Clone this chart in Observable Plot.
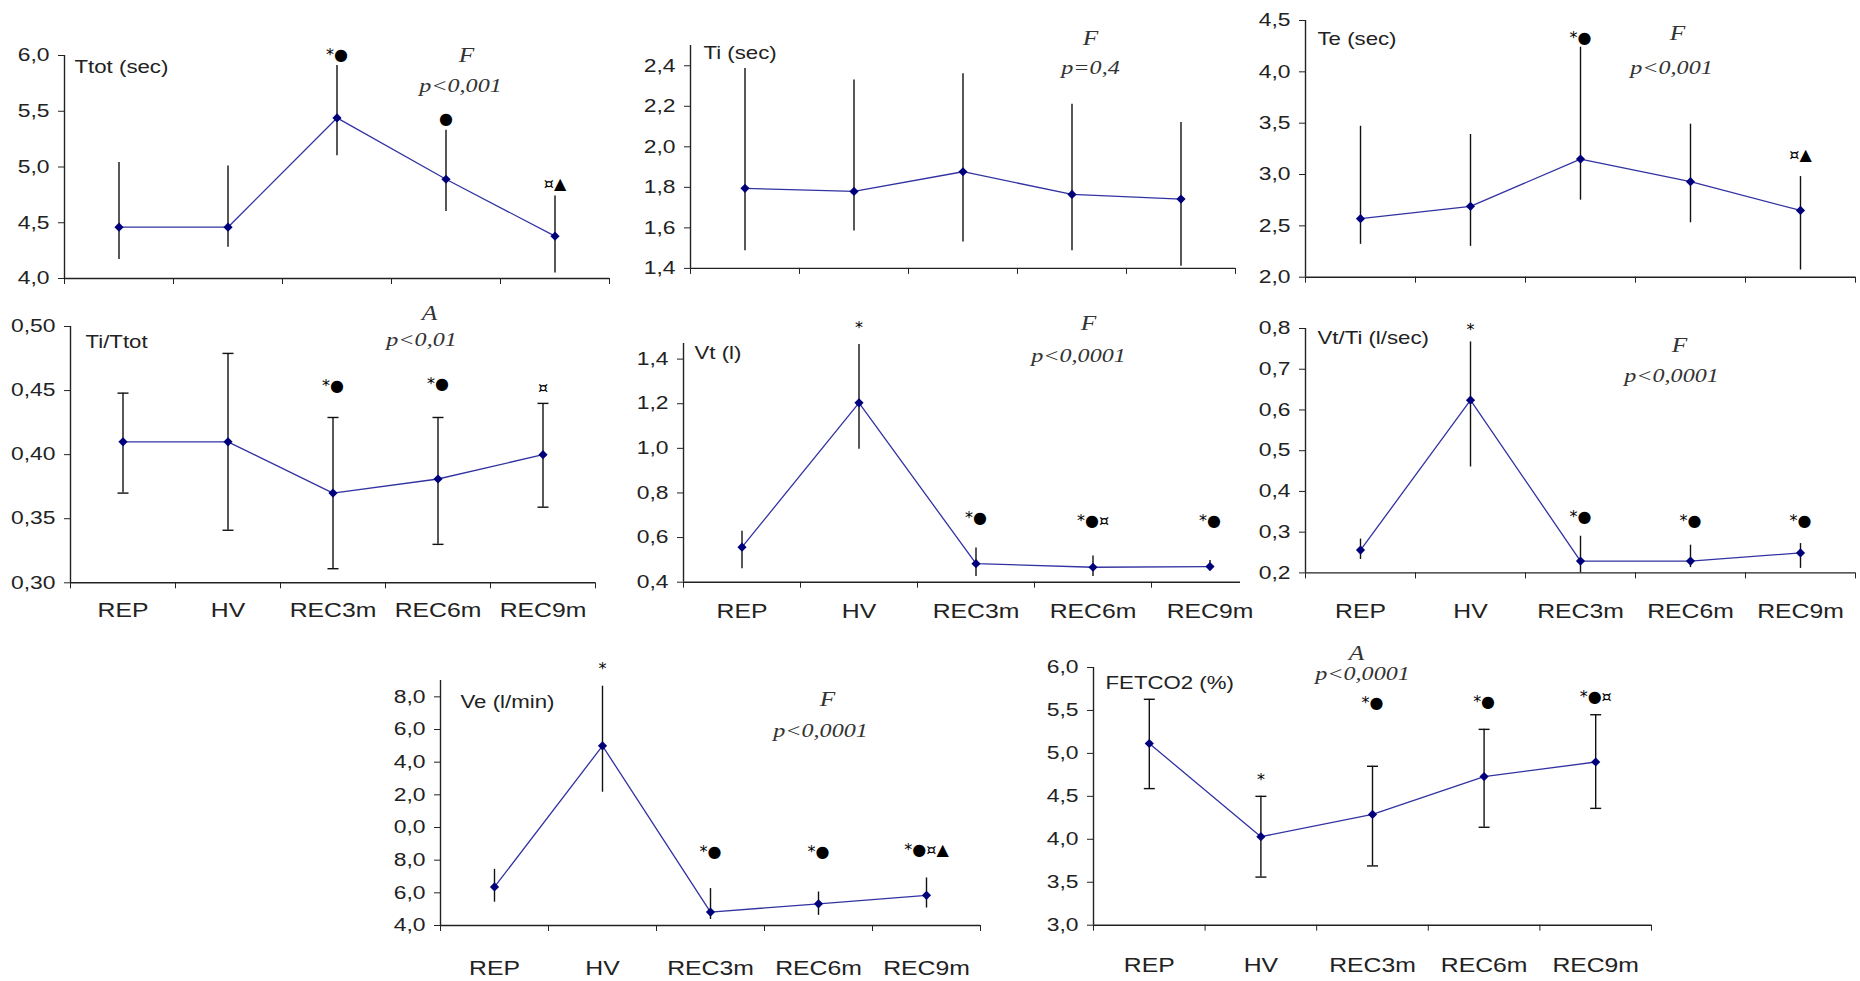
<!DOCTYPE html>
<html><head><meta charset="utf-8">
<script src="https://cdn.jsdelivr.net/npm/d3@7"></script>
<script src="https://cdn.jsdelivr.net/npm/@observablehq/plot@0.6"></script>
<style>
html,body{margin:0;padding:0;background:#fff;overflow:hidden;}
#root{position:relative;width:1860px;height:981px;}
.panel{position:absolute;}
.panel svg{overflow:visible;display:block;max-width:none !important;}
</style></head><body><div id="root"></div>
<script>
// ---------- data ----------
const categories = ["REP", "HV", "REC3m", "REC6m", "REC9m"];

const ttotMean = [4.46, 4.46, 5.44, 4.89, 4.38];
const ttotHi   = [5.04, 5.01, 5.91, 5.33, 4.74];
const ttotLo   = [4.17, 4.28, 5.10, 4.60, 4.05];
const ttotSig  = ["", "", "*●", "●", "¤▲"];
const ttotSigAt = [null, null, 6.01, 5.43, 4.85];
const ttotTicks = [4.0, 4.5, 5.0, 5.5, 6.0];

const tiMean = [1.795, 1.78, 1.877, 1.765, 1.742];
const tiHi   = [2.387, 2.33, 2.36, 2.21, 2.12];
const tiLo   = [1.487, 1.584, 1.53, 1.487, 1.41];
const tiSig  = ["", "", "", "", ""];
const tiSigAt = [null, null, null, null, null];
const tiTicks = [1.4, 1.6, 1.8, 2.0, 2.2, 2.4];

const teMean = [2.57, 2.69, 3.15, 2.93, 2.65];
const teHi   = [3.47, 3.39, 4.24, 3.49, 2.98];
const teLo   = [2.32, 2.30, 2.75, 2.53, 2.07];
const teSig  = ["", "", "*●", "", "¤▲"];
const teSigAt = [null, null, 4.33, null, 3.19];
const teTicks = [2.0, 2.5, 3.0, 3.5, 4.0, 4.5];

const tittotMean = [0.410, 0.410, 0.370, 0.381, 0.400];
const tittotHi   = [0.448, 0.479, 0.429, 0.429, 0.440];
const tittotLo   = [0.370, 0.341, 0.311, 0.330, 0.359];
const tittotSig  = ["", "", "*●", "*●", "¤"];
const tittotSigAt = [null, null, 0.454, 0.4555, 0.452];
const tittotTicks = [0.30, 0.35, 0.40, 0.45, 0.50];

const vtMean = [0.557, 1.204, 0.483, 0.467, 0.470];
const vtHi   = [0.628, 1.466, 0.553, 0.517, 0.497];
const vtLo   = [0.460, 0.996, 0.426, 0.426, 0.452];
const vtSig  = ["", "*", "*●", "*●¤", "*●"];
const vtSigAt = [null, 1.539, 0.69, 0.677, 0.677];
const vtTicks = [0.4, 0.6, 0.8, 1.0, 1.2, 1.4];

const vttiMean = [0.256, 0.624, 0.229, 0.229, 0.249];
const vttiHi   = [0.283, 0.767, 0.290, 0.268, 0.272];
const vttiLo   = [0.233, 0.460, 0.200, 0.213, 0.211];
const vttiSig  = ["", "*", "*●", "*●", "*●"];
const vttiSigAt = [null, 0.796, 0.337, 0.327, 0.327];
const vttiTicks = [0.2, 0.3, 0.4, 0.5, 0.6, 0.7, 0.8];

const veMean = [6.36, 15.0, 4.82, 5.33, 5.85];
const veHi   = [7.44, 18.65, 6.26, 6.05, 6.91];
const veLo   = [5.43, 12.16, 4.37, 4.62, 5.07];
const veSig  = ["", "*", "*●", "*●", "*●¤▲"];
const veSigAt = [null, 19.74, 8.49, 8.49, 8.61];
const veTicks = [4, 6, 8, 10, 12, 14, 16, 18];
const veTickLabels = ["4,0", "6,0", "8,0", "0,0", "2,0", "4,0", "6,0", "8,0"];

const fetMean = [5.115, 4.03, 4.29, 4.73, 4.90];
const fetHi   = [5.63, 4.50, 4.85, 5.28, 5.45];
const fetLo   = [4.59, 3.56, 3.69, 4.14, 4.36];
const fetSig  = ["", "*", "*●", "*●", "*●¤"];
const fetSigAt = [null, 4.69, 5.585, 5.596, 5.654];
const fetTicks = [3.0, 3.5, 4.0, 4.5, 5.0, 5.5, 6.0];

// ---------- helpers ----------
const comma1 = d => d3.format(".1f")(d).replace(".", ",");
const comma2 = d => d3.format(".2f")(d).replace(".", ",");
const diamond = {draw(ctx, size) {const r = Math.sqrt(size / Math.PI); ctx.moveTo(0, -r); ctx.lineTo(r, 0); ctx.lineTo(0, r); ctx.lineTo(-r, 0); ctx.closePath();}};
const capSym = {draw(ctx, size) {const r = Math.sqrt(size / Math.PI); ctx.moveTo(-r, 0); ctx.lineTo(r, 0);}};

const STRETCH = 1.27;
const AX = "#222";

const panels = [
  {mean: ttotMean, hi: ttotHi, lo: ttotLo, sig: ttotSig, sigAt: ttotSigAt, yDomain: [4, 6], ticks: ttotTicks, fmt: comma1,
   title: "Ttot (sec)", statName: "F", statP: "p<0,001", caps: false, showX: false,
   frame: {left: 64, right: 609, top: 55, bottom: 278}, titleOff: [10, 12], nameOff: [402, 0], pOff: [396, 30]},
  {mean: tiMean, hi: tiHi, lo: tiLo, sig: tiSig, sigAt: tiSigAt, yDomain: [1.4, 2.5], ticks: tiTicks, fmt: comma1,
   title: "Ti (sec)", statName: "F", statP: "p=0,4", caps: false, showX: false,
   frame: {left: 690, right: 1235, top: 45.4, bottom: 268.3}, titleOff: [13, 8], nameOff: [400, -7], pOff: [400, 22]},
  {mean: teMean, hi: teHi, lo: teLo, sig: teSig, sigAt: teSigAt, yDomain: [2, 4.5], ticks: teTicks, fmt: comma1,
   title: "Te (sec)", statName: "F", statP: "p<0,001", caps: false, showX: false,
   frame: {left: 1305, right: 1855, top: 20, bottom: 276.7}, titleOff: [12, 19], nameOff: [372, 13], pOff: [366, 47]},
  {mean: tittotMean, hi: tittotHi, lo: tittotLo, sig: tittotSig, sigAt: tittotSigAt, yDomain: [0.3, 0.5], ticks: tittotTicks, fmt: comma2,
   title: "Ti/Ttot", statName: "A", statP: "p<0,01", caps: true, showX: true, labelDy: 28,
   frame: {left: 70, right: 595, top: 326, bottom: 582.3}, titleOff: [15, 16], nameOff: [359, -13], pOff: [351, 13]},
  {mean: vtMean, hi: vtHi, lo: vtLo, sig: vtSig, sigAt: vtSigAt, yDomain: [0.4, 1.47], ticks: vtTicks, fmt: comma1,
   title: "Vt (l)", statName: "F", statP: "p<0,0001", caps: false, showX: true, labelDy: 30, bandsEnd: 1268,
   frame: {left: 683, right: 1240, top: 343, bottom: 581.7}, titleOff: [11, 10], nameOff: [405, -20], pOff: [395, 12]},
  {mean: vttiMean, hi: vttiHi, lo: vttiLo, sig: vttiSig, sigAt: vttiSigAt, yDomain: [0.2, 0.8], ticks: vttiTicks, fmt: comma1,
   title: "Vt/Ti (l/sec)", statName: "F", statP: "p<0,0001", caps: false, showX: true, labelDy: 39,
   frame: {left: 1305, right: 1855, top: 328.3, bottom: 572.7}, titleOff: [12, 10], nameOff: [374, 17], pOff: [366, 47]},
  {mean: veMean, hi: veHi, lo: veLo, sig: veSig, sigAt: veSigAt, yDomain: [4, 19], ticks: veTicks, fmt: d => veTickLabels[veTicks.indexOf(d)],
   title: "Ve (l/min)", statName: "F", statP: "p<0,0001", caps: false, showX: true, labelDy: 43,
   frame: {left: 440, right: 980, top: 680, bottom: 925}, titleOff: [20, 22], nameOff: [387, 19], pOff: [380, 50]},
  {mean: fetMean, hi: fetHi, lo: fetLo, sig: fetSig, sigAt: fetSigAt, yDomain: [3, 6], ticks: fetTicks, fmt: comma1,
   title: "FETCO2 (%)", statName: "A", statP: "p<0,0001", caps: true, showX: true, labelDy: 41,
   frame: {left: 1093, right: 1651, top: 667.3, bottom: 925}, titleOff: [12, 16], nameOff: [263, -14], pOff: [269, 6]}
];

const root = document.getElementById("root");
const mL = 70, mR = 12, mT = 40, mB = 60;

for (const p of panels) {
  const {left, right, top, bottom} = p.frame;
  const data = categories.map((c, i) => ({c, x: i + 0.5, mean: p.mean[i], hi: p.hi[i], lo: p.lo[i], sig: p.sig[i], sigAt: p.sigAt[i]}));
  const sigData = data.filter(d => d.sig);
  const serif = "Liberation Serif, Times New Roman, serif";
  const marks = [
    Plot.ruleY([p.yDomain[0]], {stroke: AX, strokeWidth: 1.4}),
    Plot.ruleX([0], {stroke: AX, strokeWidth: 1.4}),
    Plot.ruleX(data, {x: "x", y1: "lo", y2: "hi", stroke: "#111", strokeWidth: 1.4}),
    p.caps ? Plot.dot(data, {x: "x", y: "hi", symbol: capSym, r: 5.5, stroke: "#111", strokeWidth: 1.4}) : null,
    p.caps ? Plot.dot(data, {x: "x", y: "lo", symbol: capSym, r: 5.5, stroke: "#111", strokeWidth: 1.4}) : null,
    Plot.line(data, {x: "x", y: "mean", stroke: "#3232a2", strokeWidth: 1.3}),
    Plot.dot(data, {x: "x", y: "mean", symbol: diamond, r: 4.6, fill: "#00007a", stroke: "none"}),
    Plot.text(sigData, {x: "x", y: "sigAt", text: "sig", fontSize: 16, fontFamily: "DejaVu Sans, sans-serif", textAnchor: "middle", lineAnchor: "middle", fill: "#000"}),
    Plot.text([p.title], {text: d => d, frameAnchor: "top-left", textAnchor: "start", lineAnchor: "middle", dx: p.titleOff[0], dy: p.titleOff[1], fontSize: 17.5, fill: "#222"}),
    Plot.text([p.statName], {text: d => d, frameAnchor: "top-left", textAnchor: "middle", lineAnchor: "middle", dx: p.nameOff[0], dy: p.nameOff[1], fontSize: 20, fontStyle: "italic", fontFamily: serif, fill: "#333"}),
    Plot.text([p.statP], {text: d => d, frameAnchor: "top-left", textAnchor: "middle", lineAnchor: "middle", dx: p.pOff[0], dy: p.pOff[1], fontSize: 19, fontStyle: "italic", fontFamily: serif, fill: "#333"}),
    p.showX ? Plot.text(data, {x: "x", text: "c", frameAnchor: "bottom", textAnchor: "middle", lineAnchor: "middle", dy: p.labelDy, fontSize: 19.5, fill: "#222"}) : null
  ].filter(Boolean);

  const W = right - left + mL + mR, H = bottom - top + mT + mB;
  const xRange = [mL, mL + ((p.bandsEnd ?? right) - left)];
  const svg = Plot.plot({
    width: W,
    height: H,
    marginLeft: mL, marginRight: mR, marginTop: mT, marginBottom: mB,
    style: {fontFamily: "Liberation Sans, Arial, sans-serif", fontSize: "18px", color: AX, background: "transparent", overflow: "visible", maxWidth: "none", width: W + "px", height: H + "px"},
    x: {domain: [0, 5], range: xRange, ticks: [0, 1, 2, 3, 4, 5].filter(t => mL + t / 5 * (xRange[1] - mL) <= W - mR + 0.5), tickFormat: () => "", tickSize: 6, label: null},
    y: {domain: p.yDomain, ticks: p.ticks, tickFormat: p.fmt, tickSize: 6, tickPadding: 9, label: null},
    marks
  });

  const wrap = document.createElement("div");
  wrap.className = "panel";
  wrap.style.left = (left - mL) + "px";
  wrap.style.top = (top - mT) + "px";
  wrap.appendChild(svg);
  root.appendChild(wrap);

  // the reference's lettering is horizontally widened (symbols excluded)
  svg.querySelectorAll("text").forEach(t => {
    if (t.querySelector("tspan")) return;
    if (/[●¤▲*]/.test(t.textContent)) return;
    const len = t.getComputedTextLength();
    if (len > 0) {
      t.setAttribute("textLength", (len * STRETCH).toFixed(1));
      t.setAttribute("lengthAdjust", "spacingAndGlyphs");
    }
  });
}
</script>
</body></html>
